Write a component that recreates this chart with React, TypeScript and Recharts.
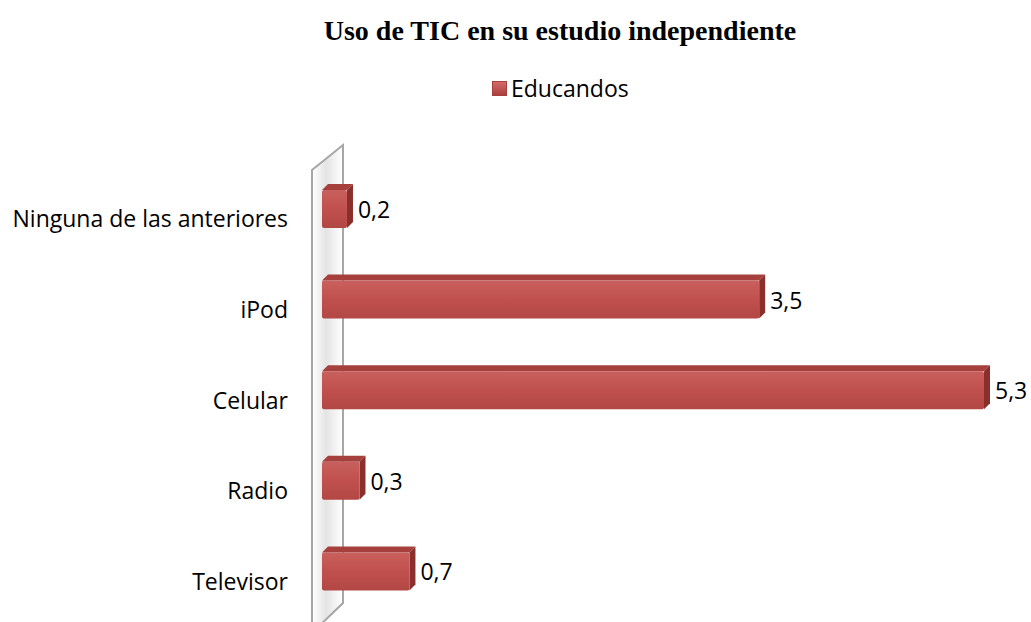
import React from 'react';
import { BarChart, Bar, XAxis, YAxis, LabelList, Legend, ReferenceArea } from 'recharts';

const categories = ['Ninguna de las anteriores', 'iPod', 'Celular', 'Radio', 'Televisor'];
const educandos = [0.2, 3.5, 5.3, 0.3, 0.7];

const data = categories.map((name, i) => ({ name, Educandos: educandos[i] }));

const FONT = '"Open Sans", Lato, sans-serif';
const FONT_SIZE = 23;
const DEPTH = 6;
const LIFT = 10;

const Bar3D = (props: any) => {
  const { x, y, width, height } = props;
  const X = x;
  const Y = y - LIFT;
  const W = Math.max(width, 1);
  const H = height;
  const d = DEPTH;
  return (
    <g>
      <polygon
        points={`${X},${Y} ${X + d},${Y - d} ${X + W + d},${Y - d} ${X + W},${Y}`}
        fill="#a6403d"
      />
      <polygon
        points={`${X + W},${Y} ${X + W + d},${Y - d} ${X + W + d},${Y + H - d} ${X + W},${Y + H}`}
        fill="#8a2f2c"
      />
      <rect x={X} y={Y} width={W} height={H} rx={2} fill="url(#frontGrad)" />
    </g>
  );
};

const Wall = (props: any) => {
  const { x, y, height } = props;
  const top = y;
  const bottom = y + height;
  const l = x - 10;
  const r = x + 21;
  return (
    <g>
      <polygon
        points={`${l},${top - 4} ${r},${top - 29} ${r},${bottom - 24} ${l},${bottom + 6}`}
        fill="url(#wallGrad)"
        stroke="#a6a6a6"
        strokeWidth={2}
      />
    </g>
  );
};

const ValueLabel = (props: any) => {
  const { x, y, width, height, value } = props;
  return (
    <text
      x={x + width + DEPTH + 5}
      y={y - LIFT + height / 2}
      fontSize={FONT_SIZE}
      fontFamily={FONT}
      fill="#000"
      dominantBaseline="central"
    >
      {String(value).replace('.', ',')}
    </text>
  );
};

const LegendContent = () => (
  <div style={{ display: 'flex', alignItems: 'center', fontFamily: FONT, fontSize: FONT_SIZE, color: '#000' }}>
    <span
      style={{
        display: 'inline-block',
        width: 13,
        height: 13,
        marginRight: 4,
        background: 'linear-gradient(#d46b68, #a9403d)',
        border: '1px solid #a6403d',
      }}
    />
    Educandos
  </div>
);

const App: React.FC = () => {
  return (
    <div style={{ position: 'absolute', left: 0, top: 0, width: 1031, height: 622, overflow: 'hidden', background: '#fff' }}>
      <div
        style={{
          position: 'absolute',
          left: 0,
          width: 1120,
          top: 16,
          textAlign: 'center',
          fontFamily: '"Liberation Serif", "Times New Roman", serif',
          fontWeight: 'bold',
          fontSize: 28,
          lineHeight: '30px',
        }}
      >
        Uso de TIC en su estudio independiente
      </div>
      <BarChart
        width={1031}
        height={660}
        data={data}
        layout="vertical"
        margin={{ top: 142, right: 47, bottom: 33, left: 0 }}
        barCategoryGap={0}
      >
        <defs>
          <linearGradient id="frontGrad" x1="0" y1="0" x2="0" y2="1">
            <stop offset="0%" stopColor="#c9605d" />
            <stop offset="50%" stopColor="#c0504d" />
            <stop offset="100%" stopColor="#b24744" />
          </linearGradient>
          <linearGradient id="wallGrad" x1="0" y1="0" x2="1" y2="0">
            <stop offset="0%" stopColor="#ffffff" />
            <stop offset="45%" stopColor="#e4e4e4" />
            <stop offset="100%" stopColor="#ffffff" />
          </linearGradient>
        </defs>
        <XAxis type="number" domain={[0, 5.3]} hide />
        <YAxis
          type="category"
          dataKey="name"
          width={322}
          axisLine={false}
          tickLine={false}
          tickSize={0}
          tickMargin={34}
          tick={{ fontSize: FONT_SIZE, fontFamily: FONT, fill: '#000' }}
          interval={0}
        />
        <ReferenceArea x1={0} x2={0.05} ifOverflow="visible" shape={<Wall />} />
        <Legend
          verticalAlign="top"
          content={<LegendContent />}
          wrapperStyle={{ top: 72, left: 492, width: 'auto' }}
        />
        <Bar dataKey="Educandos" barSize={38} shape={<Bar3D />} isAnimationActive={false}>
          <LabelList dataKey="Educandos" content={<ValueLabel />} />
        </Bar>
      </BarChart>
    </div>
  );
};

export default App;
